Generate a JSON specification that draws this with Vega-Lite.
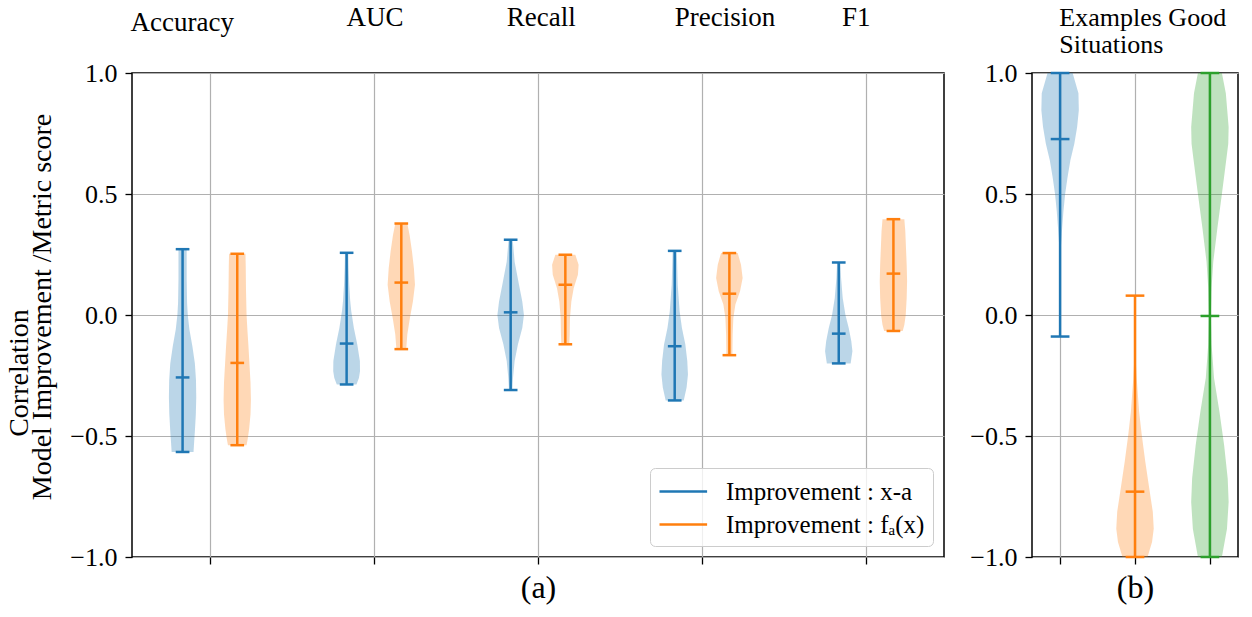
{
  "$schema": "https://vega.github.io/schema/vega-lite/v6.json",
  "background": "white",
  "padding": {"left": 5, "top": 3, "right": 5, "bottom": 5},
  "config": {
    "font": "Liberation Serif",
    "view": {"stroke": "black", "strokeWidth": 1.5},
    "axis": {
      "domain": false,
      "gridColor": "#b0b0b0",
      "gridWidth": 1.2,
      "tickColor": "black",
      "tickSize": 7,
      "tickWidth": 1.3,
      "labelFont": "Liberation Serif",
      "labelFontSize": 26,
      "labelColor": "black",
      "labelPadding": 8,
      "titleFont": "Liberation Serif",
      "titleFontWeight": "normal",
      "titleColor": "black",
      "titleFontSize": 32,
      "titlePadding": 8
    },
    "text": {"font": "Liberation Serif", "color": "black"}
  },
  "datasets": {
    "profA": [
      {"metric": "Accuracy", "series": "xa", "v": 0.272, "w": 0.3},
      {"metric": "Accuracy", "series": "xa", "v": 0.15, "w": 0.3},
      {"metric": "Accuracy", "series": "xa", "v": 0.05, "w": 0.33},
      {"metric": "Accuracy", "series": "xa", "v": 0.0, "w": 0.38},
      {"metric": "Accuracy", "series": "xa", "v": -0.06, "w": 0.5},
      {"metric": "Accuracy", "series": "xa", "v": -0.13, "w": 0.72},
      {"metric": "Accuracy", "series": "xa", "v": -0.2, "w": 0.9},
      {"metric": "Accuracy", "series": "xa", "v": -0.27, "w": 0.98},
      {"metric": "Accuracy", "series": "xa", "v": -0.34, "w": 1.0},
      {"metric": "Accuracy", "series": "xa", "v": -0.41, "w": 0.97},
      {"metric": "Accuracy", "series": "xa", "v": -0.48, "w": 0.9},
      {"metric": "Accuracy", "series": "xa", "v": -0.53, "w": 0.84},
      {"metric": "Accuracy", "series": "xa", "v": -0.566, "w": 0.8},

      {"metric": "Accuracy", "series": "fa", "v": 0.253, "w": 0.6},
      {"metric": "Accuracy", "series": "fa", "v": 0.2, "w": 0.62},
      {"metric": "Accuracy", "series": "fa", "v": 0.1, "w": 0.64},
      {"metric": "Accuracy", "series": "fa", "v": 0.0, "w": 0.68},
      {"metric": "Accuracy", "series": "fa", "v": -0.06, "w": 0.74},
      {"metric": "Accuracy", "series": "fa", "v": -0.13, "w": 0.82},
      {"metric": "Accuracy", "series": "fa", "v": -0.21, "w": 0.9},
      {"metric": "Accuracy", "series": "fa", "v": -0.28, "w": 0.97},
      {"metric": "Accuracy", "series": "fa", "v": -0.35, "w": 1.0},
      {"metric": "Accuracy", "series": "fa", "v": -0.41, "w": 0.97},
      {"metric": "Accuracy", "series": "fa", "v": -0.47, "w": 0.87},
      {"metric": "Accuracy", "series": "fa", "v": -0.51, "w": 0.77},
      {"metric": "Accuracy", "series": "fa", "v": -0.538, "w": 0.68},

      {"metric": "AUC", "series": "xa", "v": 0.257, "w": 0.12},
      {"metric": "AUC", "series": "xa", "v": 0.2, "w": 0.14},
      {"metric": "AUC", "series": "xa", "v": 0.125, "w": 0.19},
      {"metric": "AUC", "series": "xa", "v": 0.06, "w": 0.26},
      {"metric": "AUC", "series": "xa", "v": 0.015, "w": 0.34},
      {"metric": "AUC", "series": "xa", "v": -0.054, "w": 0.53},
      {"metric": "AUC", "series": "xa", "v": -0.122, "w": 0.78},
      {"metric": "AUC", "series": "xa", "v": -0.19, "w": 0.97},
      {"metric": "AUC", "series": "xa", "v": -0.232, "w": 0.98},
      {"metric": "AUC", "series": "xa", "v": -0.26, "w": 0.9},
      {"metric": "AUC", "series": "xa", "v": -0.287, "w": 0.72},

      {"metric": "AUC", "series": "fa", "v": 0.378, "w": 0.44},
      {"metric": "AUC", "series": "fa", "v": 0.33, "w": 0.61},
      {"metric": "AUC", "series": "fa", "v": 0.263, "w": 0.78},
      {"metric": "AUC", "series": "fa", "v": 0.194, "w": 0.92},
      {"metric": "AUC", "series": "fa", "v": 0.125, "w": 1.0},
      {"metric": "AUC", "series": "fa", "v": 0.056, "w": 0.85},
      {"metric": "AUC", "series": "fa", "v": -0.012, "w": 0.63},
      {"metric": "AUC", "series": "fa", "v": -0.081, "w": 0.44},
      {"metric": "AUC", "series": "fa", "v": -0.141, "w": 0.36},

      {"metric": "Recall", "series": "xa", "v": 0.311, "w": 0.15},
      {"metric": "Recall", "series": "xa", "v": 0.22, "w": 0.29},
      {"metric": "Recall", "series": "xa", "v": 0.125, "w": 0.61},
      {"metric": "Recall", "series": "xa", "v": 0.056, "w": 0.85},
      {"metric": "Recall", "series": "xa", "v": 0.0, "w": 0.97},
      {"metric": "Recall", "series": "xa", "v": -0.054, "w": 0.85},
      {"metric": "Recall", "series": "xa", "v": -0.122, "w": 0.53},
      {"metric": "Recall", "series": "xa", "v": -0.19, "w": 0.29},
      {"metric": "Recall", "series": "xa", "v": -0.26, "w": 0.17},
      {"metric": "Recall", "series": "xa", "v": -0.31, "w": 0.12},

      {"metric": "Recall", "series": "fa", "v": 0.249, "w": 0.73},
      {"metric": "Recall", "series": "fa", "v": 0.208, "w": 0.97},
      {"metric": "Recall", "series": "fa", "v": 0.166, "w": 0.92},
      {"metric": "Recall", "series": "fa", "v": 0.111, "w": 0.61},
      {"metric": "Recall", "series": "fa", "v": 0.056, "w": 0.44},
      {"metric": "Recall", "series": "fa", "v": -0.012, "w": 0.34},
      {"metric": "Recall", "series": "fa", "v": -0.081, "w": 0.32},
      {"metric": "Recall", "series": "fa", "v": -0.121, "w": 0.29},

      {"metric": "Precision", "series": "xa", "v": 0.265, "w": 0.15},
      {"metric": "Precision", "series": "xa", "v": 0.125, "w": 0.22},
      {"metric": "Precision", "series": "xa", "v": 0.015, "w": 0.36},
      {"metric": "Precision", "series": "xa", "v": -0.054, "w": 0.53},
      {"metric": "Precision", "series": "xa", "v": -0.122, "w": 0.78},
      {"metric": "Precision", "series": "xa", "v": -0.19, "w": 0.92},
      {"metric": "Precision", "series": "xa", "v": -0.246, "w": 0.97},
      {"metric": "Precision", "series": "xa", "v": -0.3, "w": 0.87},
      {"metric": "Precision", "series": "xa", "v": -0.353, "w": 0.66},

      {"metric": "Precision", "series": "fa", "v": 0.256, "w": 0.61},
      {"metric": "Precision", "series": "fa", "v": 0.208, "w": 0.85},
      {"metric": "Precision", "series": "fa", "v": 0.153, "w": 0.97},
      {"metric": "Precision", "series": "fa", "v": 0.098, "w": 0.78},
      {"metric": "Precision", "series": "fa", "v": 0.043, "w": 0.44},
      {"metric": "Precision", "series": "fa", "v": -0.012, "w": 0.29},
      {"metric": "Precision", "series": "fa", "v": -0.081, "w": 0.24},
      {"metric": "Precision", "series": "fa", "v": -0.166, "w": 0.22},

      {"metric": "F1", "series": "xa", "v": 0.217, "w": 0.12},
      {"metric": "F1", "series": "xa", "v": 0.153, "w": 0.17},
      {"metric": "F1", "series": "xa", "v": 0.07, "w": 0.29},
      {"metric": "F1", "series": "xa", "v": 0.0, "w": 0.49},
      {"metric": "F1", "series": "xa", "v": -0.054, "w": 0.73},
      {"metric": "F1", "series": "xa", "v": -0.108, "w": 0.92},
      {"metric": "F1", "series": "xa", "v": -0.15, "w": 1.0},
      {"metric": "F1", "series": "xa", "v": -0.2, "w": 0.87},

      {"metric": "F1", "series": "fa", "v": 0.396, "w": 0.8},
      {"metric": "F1", "series": "fa", "v": 0.345, "w": 0.87},
      {"metric": "F1", "series": "fa", "v": 0.276, "w": 0.92},
      {"metric": "F1", "series": "fa", "v": 0.208, "w": 0.97},
      {"metric": "F1", "series": "fa", "v": 0.139, "w": 1.0},
      {"metric": "F1", "series": "fa", "v": 0.07, "w": 0.97},
      {"metric": "F1", "series": "fa", "v": 0.0, "w": 0.9},
      {"metric": "F1", "series": "fa", "v": -0.04, "w": 0.8},
      {"metric": "F1", "series": "fa", "v": -0.066, "w": 0.68}
    ],
    "statsA": [
      {"metric": "Accuracy", "series": "xa", "min": -0.566, "mean": -0.258, "max": 0.272},
      {"metric": "Accuracy", "series": "fa", "min": -0.538, "mean": -0.198, "max": 0.253},
      {"metric": "AUC", "series": "xa", "min": -0.287, "mean": -0.118, "max": 0.257},
      {"metric": "AUC", "series": "fa", "min": -0.141, "mean": 0.134, "max": 0.378},
      {"metric": "Recall", "series": "xa", "min": -0.31, "mean": 0.011, "max": 0.311},
      {"metric": "Recall", "series": "fa", "min": -0.121, "mean": 0.125, "max": 0.249},
      {"metric": "Precision", "series": "xa", "min": -0.353, "mean": -0.129, "max": 0.265},
      {"metric": "Precision", "series": "fa", "min": -0.166, "mean": 0.088, "max": 0.256},
      {"metric": "F1", "series": "xa", "min": -0.2, "mean": -0.077, "max": 0.217},
      {"metric": "F1", "series": "fa", "min": -0.066, "mean": 0.171, "max": 0.396}
    ],
    "profB": [
      {"situation": "s1", "v": 1.0, "w": 0.67},
      {"situation": "s1", "v": 0.916, "w": 0.98},
      {"situation": "s1", "v": 0.846, "w": 1.0},
      {"situation": "s1", "v": 0.777, "w": 0.91},
      {"situation": "s1", "v": 0.708, "w": 0.76},
      {"situation": "s1", "v": 0.639, "w": 0.55},
      {"situation": "s1", "v": 0.57, "w": 0.4},
      {"situation": "s1", "v": 0.5, "w": 0.27},
      {"situation": "s1", "v": 0.43, "w": 0.18},
      {"situation": "s1", "v": 0.36, "w": 0.11},
      {"situation": "s1", "v": 0.29, "w": 0.05},
      {"situation": "s1", "v": 0.22, "w": 0.03},
      {"situation": "s1", "v": 0.1, "w": 0.02},
      {"situation": "s1", "v": -0.089, "w": 0.02},

      {"situation": "s2", "v": 0.08, "w": 0.02},
      {"situation": "s2", "v": -0.1, "w": 0.03},
      {"situation": "s2", "v": -0.2, "w": 0.05},
      {"situation": "s2", "v": -0.26, "w": 0.09},
      {"situation": "s2", "v": -0.4, "w": 0.22},
      {"situation": "s2", "v": -0.495, "w": 0.36},
      {"situation": "s2", "v": -0.606, "w": 0.55},
      {"situation": "s2", "v": -0.716, "w": 0.76},
      {"situation": "s2", "v": -0.813, "w": 0.95},
      {"situation": "s2", "v": -0.883, "w": 1.0},
      {"situation": "s2", "v": -0.938, "w": 0.91},
      {"situation": "s2", "v": -1.0, "w": 0.67},

      {"situation": "s3", "v": 1.0, "w": 0.64},
      {"situation": "s3", "v": 0.916, "w": 0.85},
      {"situation": "s3", "v": 0.777, "w": 1.0},
      {"situation": "s3", "v": 0.708, "w": 0.98},
      {"situation": "s3", "v": 0.639, "w": 0.87},
      {"situation": "s3", "v": 0.5, "w": 0.64},
      {"situation": "s3", "v": 0.36, "w": 0.4},
      {"situation": "s3", "v": 0.22, "w": 0.18},
      {"situation": "s3", "v": 0.113, "w": 0.09},
      {"situation": "s3", "v": 0.0, "w": 0.05},
      {"situation": "s3", "v": -0.122, "w": 0.09},
      {"situation": "s3", "v": -0.26, "w": 0.22},
      {"situation": "s3", "v": -0.4, "w": 0.51},
      {"situation": "s3", "v": -0.538, "w": 0.76},
      {"situation": "s3", "v": -0.676, "w": 0.95},
      {"situation": "s3", "v": -0.773, "w": 1.0},
      {"situation": "s3", "v": -0.884, "w": 0.91},
      {"situation": "s3", "v": -1.0, "w": 0.64}
    ],
    "statsB": [
      {"situation": "s1", "min": -0.089, "mean": 0.727, "max": 1.0},
      {"situation": "s2", "min": -1.0, "mean": -0.73, "max": 0.08},
      {"situation": "s3", "min": -1.0, "mean": -0.004, "max": 1.0}
    ]
  },
  "hconcat": [
    {
      "width": 812,
      "height": 484,
      "layer": [
        {
          "data": {"name": "profA"},
          "transform": [
            {"calculate": "indexof(['Accuracy','AUC','Recall','Precision','F1'], datum.metric) * 3 + (datum.series === 'xa' ? 1 : 2)", "as": "c"},
            {"calculate": "datum.c - 0.25 * datum.w", "as": "lo"},
            {"calculate": "datum.c + 0.25 * datum.w", "as": "hi"},
            {"calculate": "'body_' + datum.series", "as": "body"},
            {"calculate": "datum.metric + datum.series", "as": "violin"}
          ],
          "mark": {"type": "area", "orient": "horizontal", "opacity": 0.3},
          "encoding": {
            "y": {"field": "v", "type": "quantitative", "title": null, "scale": {"domain": [-1, 1], "nice": false, "zero": false},
                  "axis": {"values": [-1, -0.5, 0, 0.5, 1], "format": ".1f", "labelExpr": "replace(datum.label, '-', '−')", "grid": true}},
            "x": {"field": "lo", "type": "quantitative", "title": "(a)", "scale": {"domain": [0.075, 14.925], "nice": false, "zero": false},
                  "axis": {"values": [1.5, 4.5, 7.5, 10.5, 13.5], "labels": false, "grid": true}},
            "x2": {"field": "hi"},
            "fill": {"field": "body", "type": "nominal", "scale": {"domain": ["body_xa", "body_fa"], "range": ["#1f77b4", "#ff7f0e"]}, "legend": null},
            "detail": {"field": "violin"}
          }
        },
        {
          "data": {"name": "statsA"},
          "transform": [
            {"calculate": "indexof(['Accuracy','AUC','Recall','Precision','F1'], datum.metric) * 3 + (datum.series === 'xa' ? 1 : 2)", "as": "c"}
          ],
          "mark": {"type": "rule", "strokeWidth": 2.5},
          "encoding": {
            "x": {"field": "c", "type": "quantitative", "title": "(a)"},
            "y": {"field": "min", "type": "quantitative", "title": null},
            "y2": {"field": "max"},
            "stroke": {
              "field": "series", "type": "nominal",
              "scale": {"domain": ["xa", "fa"], "range": ["#1f77b4", "#ff7f0e"]},
              "legend": {
                "title": null,
                "orient": "bottom-right",
                "offset": 11,
                "symbolType": "M-1,0H2.4",
                "symbolSize": 784,
                "symbolStrokeWidth": 2.5,
                "labelFont": "Liberation Serif",
                "labelFontSize": 25,
                "labelColor": "black",
                "labelOffset": 37,
                "labelLimit": 400,
                "labelExpr": "datum.label === 'xa' ? 'Improvement : x-a' : 'Improvement : fₐ(x)'",
                "padding": 8,
                "rowPadding": 4,
                "fillColor": "rgba(255,255,255,0.8)",
                "strokeColor": "#cccccc",
                "cornerRadius": 5
              }
            }
          }
        },
        {
          "data": {"name": "statsA"},
          "transform": [
            {"fold": ["min", "mean", "max"], "as": ["stat", "val"]},
            {"calculate": "indexof(['Accuracy','AUC','Recall','Precision','F1'], datum.metric) * 3 + (datum.series === 'xa' ? 1 : 2)", "as": "c"},
            {"calculate": "datum.c - 0.125", "as": "lo"},
            {"calculate": "datum.c + 0.125", "as": "hi"}
          ],
          "mark": {"type": "rule", "strokeWidth": 2.5},
          "encoding": {
            "x": {"field": "lo", "type": "quantitative", "title": "(a)"},
            "x2": {"field": "hi"},
            "y": {"field": "val", "type": "quantitative", "title": null},
            "stroke": {"field": "series", "type": "nominal", "scale": {"domain": ["xa", "fa"], "range": ["#1f77b4", "#ff7f0e"]}}
          }
        },
        {"data": {"values": [{}]},
         "mark": {"type": "text", "text": "Accuracy", "fontSize": 27, "align": "center", "baseline": "alphabetic"},
         "encoding": {"x": {"datum": 0.995, "type": "quantitative"}, "y": {"datum": 1.174, "type": "quantitative"}}},
        {"data": {"values": [{}]},
         "mark": {"type": "text", "text": "AUC", "fontSize": 27, "align": "center", "baseline": "alphabetic"},
         "encoding": {"x": {"datum": 4.52, "type": "quantitative"}, "y": {"datum": 1.194, "type": "quantitative"}}},
        {"data": {"values": [{}]},
         "mark": {"type": "text", "text": "Recall", "fontSize": 27, "align": "center", "baseline": "alphabetic"},
         "encoding": {"x": {"datum": 7.56, "type": "quantitative"}, "y": {"datum": 1.194, "type": "quantitative"}}},
        {"data": {"values": [{}]},
         "mark": {"type": "text", "text": "Precision", "fontSize": 27, "align": "center", "baseline": "alphabetic"},
         "encoding": {"x": {"datum": 10.92, "type": "quantitative"}, "y": {"datum": 1.194, "type": "quantitative"}}},
        {"data": {"values": [{}]},
         "mark": {"type": "text", "text": "F1", "fontSize": 27, "align": "center", "baseline": "alphabetic"},
         "encoding": {"x": {"datum": 13.32, "type": "quantitative"}, "y": {"datum": 1.194, "type": "quantitative"}}},
        {"data": {"values": [{}]},
         "mark": {"type": "text", "text": "Correlation", "fontSize": 28, "angle": 270, "align": "center", "baseline": "alphabetic"},
         "encoding": {"x": {"datum": -1.822, "type": "quantitative"}, "y": {"datum": -0.24, "type": "quantitative"}}},
        {"data": {"values": [{}]},
         "mark": {"type": "text", "text": "Model Improvement /Metric score", "fontSize": 28, "angle": 270, "align": "center", "baseline": "alphabetic"},
         "encoding": {"x": {"datum": -1.401, "type": "quantitative"}, "y": {"datum": 0.033, "type": "quantitative"}}}
      ]
    },
    {
      "width": 206,
      "height": 484,
      "layer": [
        {
          "data": {"name": "profB"},
          "transform": [
            {"calculate": "indexof(['s1','s2','s3'], datum.situation) + 1", "as": "c"},
            {"calculate": "datum.c - 0.25 * datum.w", "as": "lo"},
            {"calculate": "datum.c + 0.25 * datum.w", "as": "hi"},
            {"calculate": "'body_' + datum.situation", "as": "body"}
          ],
          "mark": {"type": "area", "orient": "horizontal", "opacity": 0.3, "clip": true},
          "encoding": {
            "y": {"field": "v", "type": "quantitative", "title": null, "scale": {"domain": [-1, 1], "nice": false, "zero": false},
                  "axis": {"values": [-1, -0.5, 0, 0.5, 1], "format": ".1f", "labelExpr": "replace(datum.label, '-', '−')", "grid": true}},
            "x": {"field": "lo", "type": "quantitative", "title": "(b)", "scale": {"domain": [0.625, 3.375], "nice": false, "zero": false},
                  "axis": {"values": [1, 2, 3], "labels": false, "grid": true}},
            "x2": {"field": "hi"},
            "fill": {"field": "body", "type": "nominal", "scale": {"domain": ["body_s1", "body_s2", "body_s3"], "range": ["#1f77b4", "#ff7f0e", "#2ca02c"]}, "legend": null}
          }
        },
        {
          "data": {"name": "statsB"},
          "transform": [
            {"calculate": "indexof(['s1','s2','s3'], datum.situation) + 1", "as": "c"}
          ],
          "mark": {"type": "rule", "strokeWidth": 2.5},
          "encoding": {
            "x": {"field": "c", "type": "quantitative", "title": "(b)"},
            "y": {"field": "min", "type": "quantitative", "title": null},
            "y2": {"field": "max"},
            "stroke": {"field": "situation", "type": "nominal", "scale": {"domain": ["s1", "s2", "s3"], "range": ["#1f77b4", "#ff7f0e", "#2ca02c"]}, "legend": null}
          }
        },
        {
          "data": {"name": "statsB"},
          "transform": [
            {"fold": ["min", "mean", "max"], "as": ["stat", "val"]},
            {"calculate": "indexof(['s1','s2','s3'], datum.situation) + 1", "as": "c"},
            {"calculate": "datum.c - 0.125", "as": "lo"},
            {"calculate": "datum.c + 0.125", "as": "hi"}
          ],
          "mark": {"type": "rule", "strokeWidth": 2.5},
          "encoding": {
            "x": {"field": "lo", "type": "quantitative", "title": "(b)"},
            "x2": {"field": "hi"},
            "y": {"field": "val", "type": "quantitative", "title": null},
            "stroke": {"field": "situation", "type": "nominal", "scale": {"domain": ["s1", "s2", "s3"], "range": ["#1f77b4", "#ff7f0e", "#2ca02c"]}, "legend": null}
          }
        },
        {"data": {"values": [{}]},
         "mark": {"type": "text", "text": "Examples Good", "fontSize": 26, "align": "left", "baseline": "alphabetic"},
         "encoding": {"x": {"datum": 0.99, "type": "quantitative"}, "y": {"datum": 1.194, "type": "quantitative"}}},
        {"data": {"values": [{}]},
         "mark": {"type": "text", "text": "Situations", "fontSize": 26, "align": "left", "baseline": "alphabetic"},
         "encoding": {"x": {"datum": 0.99, "type": "quantitative"}, "y": {"datum": 1.081, "type": "quantitative"}}}
      ]
    }
  ],
  "spacing": 24,
  "resolve": {
    "scale": {"x": "independent", "fill": "independent", "stroke": "independent"},
    "legend": {"stroke": "independent"}
  }
}
